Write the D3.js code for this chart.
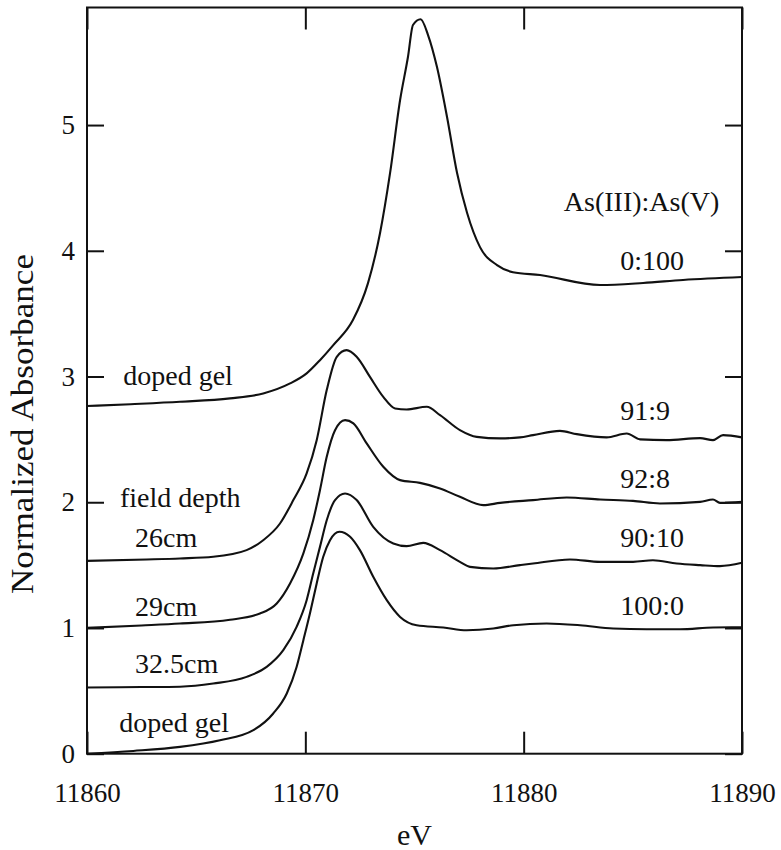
<!DOCTYPE html>
<html>
<head>
<meta charset="utf-8">
<script src="https://cdn.jsdelivr.net/npm/d3@7"></script>
<style>
  html, body { margin: 0; padding: 0; background: #fff; }
  svg { display: block; }
  text { font-family: "Liberation Serif", "Times New Roman", serif; fill: #111; }
</style>
</head>
<body>
<svg id="chart" width="781" height="850"></svg>
<script>
// ---------------- data ----------------
const xTicks = [11860, 11870, 11880, 11890];
const yTicks = [0, 1, 2, 3, 4, 5];

// As(III):As(V) 0:100 — doped gel (top curve)
const eV_0_100 = [11860.0, 11862.0, 11864.26, 11866.55, 11868.07, 11869.30, 11870.06, 11870.67, 11871.28, 11872.18, 11872.87, 11873.42, 11873.88, 11874.34, 11874.70, 11874.93, 11875.28, 11875.62, 11876.03, 11876.49, 11876.95, 11877.41, 11878.00, 11878.78, 11879.51, 11880.75, 11883.50, 11885.47, 11887.30, 11890.0];
const abs_0_100 = [2.765, 2.780, 2.799, 2.826, 2.865, 2.945, 3.025, 3.130, 3.250, 3.449, 3.743, 4.139, 4.617, 5.199, 5.541, 5.796, 5.841, 5.716, 5.461, 5.064, 4.618, 4.300, 4.029, 3.886, 3.830, 3.807, 3.728, 3.744, 3.768, 3.791];

// 91:9 — field depth 26cm
const eV_91_9 = [11860.00, 11862.73, 11864.26, 11865.78, 11867.31, 11868.07, 11868.84, 11869.45, 11870.06, 11870.52, 11870.98, 11871.44, 11871.89, 11872.35, 11872.96, 11873.57, 11874.11, 11874.64, 11875.56, 11876.17, 11877.08, 11877.85, 11878.92, 11879.83, 11880.43, 11881.66, 11882.43, 11883.80, 11884.72, 11885.33, 11886.55, 11888.08, 11888.67, 11889.13, 11890.00];
const abs_91_9 = [1.534, 1.545, 1.553, 1.566, 1.619, 1.698, 1.831, 2.017, 2.229, 2.494, 2.892, 3.157, 3.210, 3.157, 2.997, 2.838, 2.746, 2.738, 2.759, 2.693, 2.574, 2.520, 2.508, 2.516, 2.534, 2.568, 2.542, 2.516, 2.547, 2.500, 2.494, 2.510, 2.494, 2.534, 2.516];

// 92:8 — 29cm
const eV_92_8 = [11860.00, 11862.50, 11864.26, 11866.55, 11867.92, 11868.69, 11869.30, 11869.91, 11870.36, 11870.67, 11870.98, 11871.36, 11871.82, 11872.20, 11872.81, 11873.57, 11874.34, 11875.25, 11876.17, 11877.08, 11878.15, 11878.92, 11880.43, 11881.97, 11883.50, 11885.01, 11886.24, 11888.08, 11888.67, 11888.99, 11890.00];
const abs_92_8 = [1.001, 1.020, 1.035, 1.065, 1.115, 1.195, 1.354, 1.593, 1.857, 2.096, 2.361, 2.573, 2.653, 2.627, 2.468, 2.282, 2.176, 2.154, 2.110, 2.043, 1.977, 1.995, 2.017, 2.038, 2.022, 2.011, 1.990, 2.003, 2.022, 1.995, 2.003];

// 90:10 — 32.5cm
const eV_90_10 = [11860.00, 11862.50, 11864.26, 11865.78, 11867.31, 11868.23, 11868.99, 11869.60, 11870.06, 11870.36, 11870.67, 11870.98, 11871.36, 11871.82, 11872.35, 11873.11, 11874.03, 11874.64, 11875.40, 11876.17, 11877.08, 11877.54, 11878.61, 11879.83, 11880.43, 11882.12, 11883.50, 11885.01, 11885.92, 11887.01, 11888.08, 11888.99, 11890.00];
const abs_90_10 = [0.527, 0.530, 0.533, 0.558, 0.611, 0.690, 0.823, 1.009, 1.221, 1.433, 1.645, 1.857, 2.017, 2.070, 2.017, 1.804, 1.672, 1.651, 1.677, 1.619, 1.526, 1.486, 1.473, 1.500, 1.513, 1.545, 1.526, 1.526, 1.539, 1.513, 1.500, 1.492, 1.518];

// 100:0 — doped gel (bottom curve)
const eV_100_0 = [11860.00, 11862.12, 11864.26, 11866.09, 11867.62, 11868.53, 11869.15, 11869.60, 11869.91, 11870.21, 11870.52, 11870.82, 11871.13, 11871.56, 11872.05, 11872.50, 11873.11, 11873.73, 11874.34, 11875.10, 11876.32, 11877.39, 11878.61, 11879.53, 11881.05, 11882.58, 11884.10, 11885.63, 11887.16, 11888.68, 11890.00];
const abs_100_0 = [0.000, 0.022, 0.054, 0.107, 0.187, 0.320, 0.479, 0.690, 0.903, 1.115, 1.354, 1.566, 1.698, 1.765, 1.725, 1.619, 1.407, 1.221, 1.088, 1.022, 1.004, 0.982, 0.996, 1.022, 1.036, 1.022, 0.996, 0.990, 0.990, 1.004, 1.006];

const seriesNames = ["0:100", "91:9", "92:8", "90:10", "100:0"];
const seriesEnergies = [eV_0_100, eV_91_9, eV_92_8, eV_90_10, eV_100_0];
const seriesAbsorbance = [abs_0_100, abs_91_9, abs_92_8, abs_90_10, abs_100_0];

// text annotations, anchored in data units (eV, absorbance)
const annoText   = ["As(III):As(V)", "0:100", "91:9", "92:8", "90:10", "100:0",
                    "doped gel", "field depth", "26cm", "29cm", "32.5cm", "doped gel"];
const annoEV     = [11885.40, 11884.42, 11884.42, 11884.42, 11884.42, 11884.42,
                    11861.66, 11861.51, 11862.20, 11862.20, 11862.20, 11861.48];
const annoAbs    = [4.316, 3.846, 2.653, 2.110, 1.645, 1.102,
                    2.932, 1.963, 1.645, 1.094, 0.638, 0.173];
const annoAnchor = ["middle", "start", "start", "start", "start", "start",
                    "start", "start", "start", "start", "start", "start"];

// ---------------- layout ----------------
const W = 781, Hh = 850;
const margin = { left: 87, top: 7.5, right: 39, bottom: 96.3 };
const x0 = margin.left, x1 = W - margin.right;
const y0 = Hh - margin.bottom, y1 = margin.top;
const ink = "#111";

const svg = d3.select("#chart");

const x = d3.scaleLinear().domain([11860, 11890]).range([x0, x1]);
const y = d3.scaleLinear().domain([0, 5.935]).range([y0, y1]);

function styleAxis(g) {
  g.select(".domain").remove();
  g.selectAll(".tick line").attr("stroke", ink).attr("stroke-width", 2);
  g.selectAll(".tick text").attr("fill", ink).style("font-size", "27px");
}

// bottom axis
svg.append("g")
  .attr("transform", `translate(0,${y0})`)
  .call(d3.axisBottom(x).tickValues(xTicks).tickSizeInner(-22).tickSizeOuter(0).tickFormat(d3.format("d")))
  .call(styleAxis)
  .call(g => g.selectAll(".tick text").attr("y", 48).attr("dy", 0));

// top axis (ticks only)
svg.append("g")
  .attr("transform", `translate(0,${y1})`)
  .call(d3.axisTop(x).tickValues(xTicks).tickSizeInner(-22).tickSizeOuter(0).tickFormat(() => ""))
  .call(styleAxis);

// left axis
svg.append("g")
  .attr("transform", `translate(${x0},0)`)
  .call(d3.axisLeft(y).tickValues(yTicks).tickSizeInner(-17).tickSizeOuter(0).tickPadding(12).tickFormat(d3.format("d")))
  .call(styleAxis);

// right axis (ticks only)
svg.append("g")
  .attr("transform", `translate(${x1},0)`)
  .call(d3.axisRight(y).tickValues(yTicks).tickSizeInner(-17).tickSizeOuter(0).tickFormat(() => ""))
  .call(styleAxis);

// frame
svg.append("rect")
  .attr("x", x0).attr("y", y1)
  .attr("width", x1 - x0).attr("height", y0 - y1)
  .attr("fill", "none").attr("stroke", ink).attr("stroke-width", 2);

// curves
const line = d3.line()
  .x(d => x(d[0]))
  .y(d => y(d[1]))
  .curve(d3.curveMonotoneX);

svg.append("g").selectAll("path")
  .data(seriesNames.map((n, i) => ({ name: n, pts: d3.zip(seriesEnergies[i], seriesAbsorbance[i]) })))
  .join("path")
  .attr("d", d => line(d.pts))
  .attr("fill", "none")
  .attr("stroke", ink)
  .attr("stroke-width", 2.1)
  .attr("stroke-linejoin", "round");

// annotations
svg.append("g").selectAll("text")
  .data(annoText.map((t, i) => ({ t, e: annoEV[i], a: annoAbs[i], anchor: annoAnchor[i] })))
  .join("text")
  .attr("x", d => x(d.e))
  .attr("y", d => y(d.a))
  .attr("text-anchor", d => d.anchor)
  .style("font-size", "28px")
  .text(d => d.t);

// axis titles
svg.append("text")
  .attr("x", (x0 + x1) / 2)
  .attr("y", 845)
  .attr("text-anchor", "middle")
  .style("font-size", "30px")
  .text("eV");

svg.append("text")
  .attr("transform", `translate(33,424) rotate(-90)`)
  .attr("text-anchor", "middle")
  .attr("textLength", 340)
  .attr("lengthAdjust", "spacingAndGlyphs")
  .style("font-size", "31px")
  .text("Normalized Absorbance");
</script>
</body>
</html>
